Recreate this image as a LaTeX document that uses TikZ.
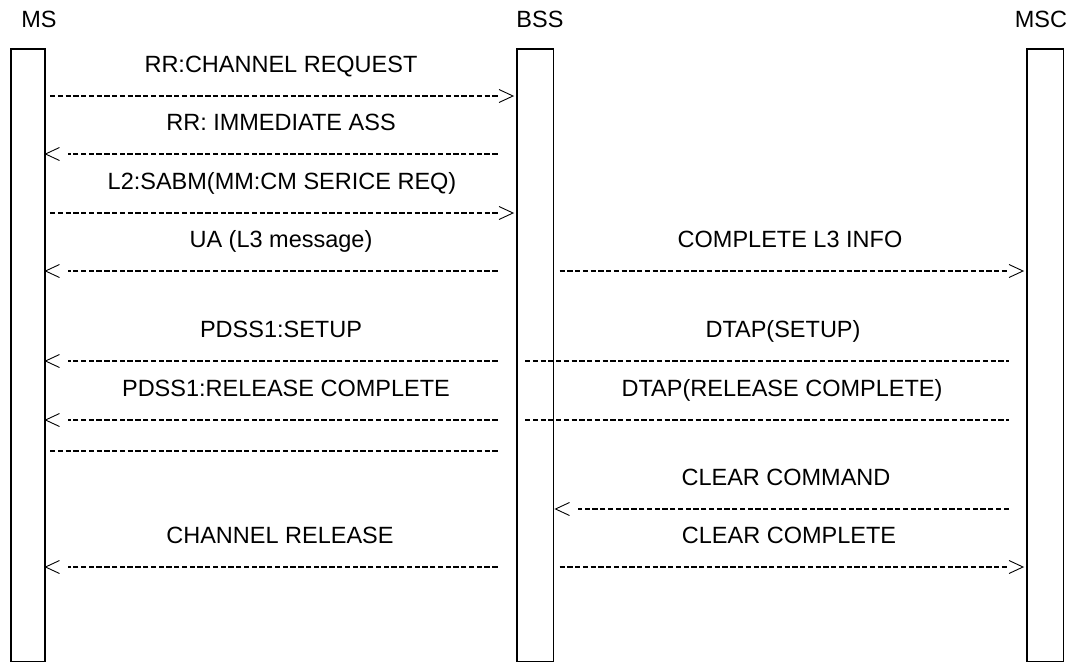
\documentclass[tikz,border=0pt]{standalone}
\usepackage{fontspec}
\setmainfont{Liberation Sans}
\usetikzlibrary{calc}
\tikzset{
  lifebox/.style={draw, line width=1.6pt, inner sep=0pt, minimum width=36.5pt, minimum height=612.5pt},
  lbl/.style={anchor=base, inner sep=0pt, font=\fontsize{23.5}{28}\selectfont},
  dl/.style={line width=1.4pt, dash pattern=on 5.3pt off 2.46pt},
  chev/.style={line width=0.9pt, line join=miter},
}
\newcommand{\chevRgt}[1]{\draw[chev] ($(#1)+(-14,-6.5)$) -- (#1) -- ($(#1)+(-14,6.5)$);}
\newcommand{\chevLft}[1]{\draw[chev] ($(#1)+(14,-6.5)$) -- (#1) -- ($(#1)+(14,6.5)$);}
\begin{document}
\begin{tikzpicture}[x=1pt,y=-1pt]
\useasboundingbox (0,0) rectangle (1069,664);
% lifelines
\node[lifebox, minimum width=34pt] (msbox) at (28,355.25) {};
\node[lifebox] (bssbox) at (535.25,355.25) {};
\node[lifebox] (mscbox) at (1045.25,355.25) {};
\node[lbl] (mst) at (39,27) {MS};
\node[lbl] (bsst) at (540,27) {BSS};
\node[lbl] (msct) at (1041,27) {MSC};
% 1 RR:CHANNEL REQUEST
\node[lbl] (t1) at (281,72) {RR:CHANNEL REQUEST};
\coordinate (a1) at (50,96); \coordinate (b1) at (498,96); \coordinate (h1) at (513,96);
\draw[dl] (a1) -- (b1); \chevRgt{h1}
% 2 RR: IMMEDIATE ASS
\node[lbl] (t2) at (281,130) {RR: IMMEDIATE ASS};
\coordinate (a2) at (497.5,154); \coordinate (b2) at (68,154); \coordinate (h2) at (45.5,154);
\draw[dl] (a2) -- (b2); \chevLft{h2}
% 3 L2:SABM
\node[lbl] (t3) at (282,189) {L2:SABM(MM:CM SERICE REQ)};
\coordinate (a3) at (50,213); \coordinate (b3) at (498,213); \coordinate (h3) at (513,213);
\draw[dl] (a3) -- (b3); \chevRgt{h3}
% 4 UA
\node[lbl] (t4) at (281,247) {UA (L3 message)};
\coordinate (a4) at (497.5,271); \coordinate (b4) at (68,271); \coordinate (h4) at (45.5,271);
\draw[dl] (a4) -- (b4); \chevLft{h4}
% 4r COMPLETE L3 INFO
\node[lbl] (t4r) at (790,247) {COMPLETE L3 INFO};
\coordinate (a4r) at (559.5,271); \coordinate (b4r) at (1008,271); \coordinate (h4r) at (1023,271);
\draw[dl] (a4r) -- (b4r); \chevRgt{h4r}
% 5 PDSS1:SETUP
\node[lbl] (t5) at (281,337) {PDSS1:SETUP};
\coordinate (a5) at (497.5,361); \coordinate (b5) at (68,361); \coordinate (h5) at (45.5,361);
\draw[dl] (a5) -- (b5); \chevLft{h5}
\node[lbl] (t5r) at (783,337) {DTAP(SETUP)};
\coordinate (a5r) at (525,361); \coordinate (b5r) at (1009,361);
\draw[dl] (a5r) -- (b5r);
% 6 PDSS1:RELEASE COMPLETE
\node[lbl] (t6) at (286,396) {PDSS1:RELEASE COMPLETE};
\coordinate (a6) at (497.5,420); \coordinate (b6) at (68,420); \coordinate (h6) at (45.5,420);
\draw[dl] (a6) -- (b6); \chevLft{h6}
\node[lbl] (t6r) at (782,396) {DTAP(RELEASE COMPLETE)};
\coordinate (a6r) at (525,420); \coordinate (b6r) at (1009,420);
\draw[dl] (a6r) -- (b6r);
% 7 plain line
\coordinate (a7) at (50,451); \coordinate (b7) at (497.5,451);
\draw[dl] (a7) -- (b7);
% 8 CLEAR COMMAND
\node[lbl] (t8r) at (786,485) {CLEAR COMMAND};
\coordinate (a8r) at (1009,509); \coordinate (b8r) at (577.5,509); \coordinate (h8r) at (555.5,509);
\draw[dl] (a8r) -- (b8r); \chevLft{h8r}
% 9 CHANNEL RELEASE / CLEAR COMPLETE
\node[lbl] (t9) at (280,543) {CHANNEL RELEASE};
\coordinate (a9) at (497.5,567); \coordinate (b9) at (68,567); \coordinate (h9) at (45.5,567);
\draw[dl] (a9) -- (b9); \chevLft{h9}
\node[lbl] (t9r) at (789,543) {CLEAR COMPLETE};
\coordinate (a9r) at (559.5,567); \coordinate (b9r) at (1008,567); \coordinate (h9r) at (1023,567);
\draw[dl] (a9r) -- (b9r); \chevRgt{h9r}
\end{tikzpicture}
\end{document}
